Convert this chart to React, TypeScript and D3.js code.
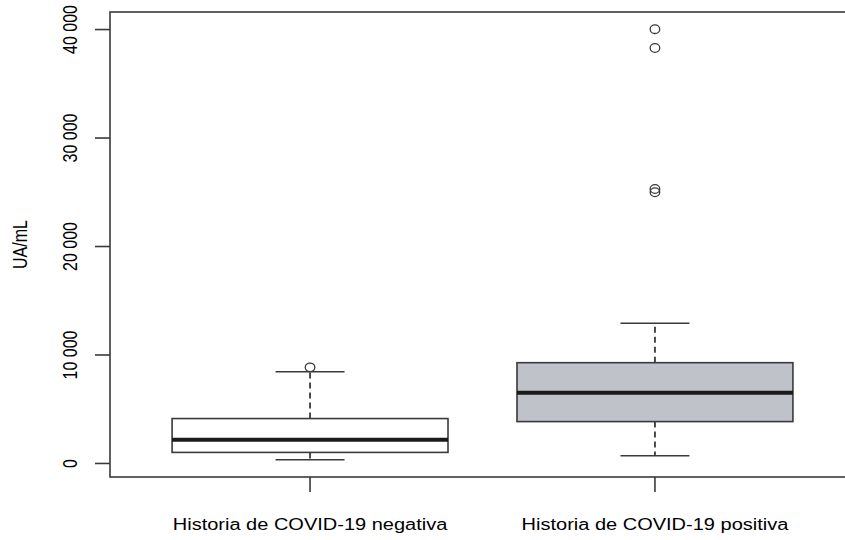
import React from 'react';
import * as d3 from 'd3';

const width = 845;
const height = 540;
const margin = { top: 12, right: -10, bottom: 63, left: 110 };

// box statistics (UA/mL)
const groups = ['Historia de COVID-19 negativa', 'Historia de COVID-19 positiva'];
const lowerWhisker = [340, 710];
const q1 = [1020, 3860];
const median = [2190, 6510];
const q3 = [4140, 9290];
const upperWhisker = [8450, 12930];
const outliers = [[8860], [40030, 38300, 25300, 25000]];
const fills = ['#ffffff', '#bfc2c8'];
const yTicks = [0, 10000, 20000, 30000, 40000];

const fmt = (v: number) => d3.format(',')(v).replace(/,/g, ' ');

// the original image was stretched horizontally
const sx = 1.25;

export default function App() {
  const x0 = margin.left;
  const x1 = width - margin.right;
  const y0 = height - margin.bottom;
  const y1 = margin.top;

  // R-style 4% extension on both axes
  const n = groups.length;
  const xScale = d3.scaleLinear()
    .domain([0.5 - 0.04 * n, n + 0.5 + 0.04 * n])
    .range([x0, x1]);
  const allVals = [...lowerWhisker, ...upperWhisker, ...outliers.flat()];
  const lo = d3.min(allVals) as number;
  const hi = d3.max(allVals) as number;
  const pad = (hi - lo) * 0.04;
  const yScale = d3.scaleLinear().domain([lo - pad, hi + pad]).range([y0, y1]);

  const boxW = xScale(1.4) - xScale(1);
  const capW = boxW / 2;
  const stroke = '#3a3a3a';
  const fs = 16;

  return (
    <svg
      width={width}
      height={height}
      style={{ position: 'absolute', left: 0, top: 0, background: '#fff' }}
      fontFamily="'Liberation Sans', Arial, sans-serif"
    >
      {groups.map((g, i) => {
        const cx = xScale(i + 1);
        return (
          <g key={g}>
            <line x1={cx} x2={cx} y1={yScale(q3[i])} y2={yScale(upperWhisker[i])}
              stroke={stroke} strokeWidth={1.8} strokeDasharray="6,4" />
            <line x1={cx} x2={cx} y1={yScale(q1[i])} y2={yScale(lowerWhisker[i])}
              stroke={stroke} strokeWidth={1.8} strokeDasharray="6,4" />
            <line x1={cx - capW / 2} x2={cx + capW / 2} y1={yScale(upperWhisker[i])} y2={yScale(upperWhisker[i])}
              stroke={stroke} strokeWidth={1.5} />
            <line x1={cx - capW / 2} x2={cx + capW / 2} y1={yScale(lowerWhisker[i])} y2={yScale(lowerWhisker[i])}
              stroke={stroke} strokeWidth={1.5} />
            <rect x={cx - boxW} y={yScale(q3[i])} width={boxW * 2}
              height={yScale(q1[i]) - yScale(q3[i])}
              fill={fills[i]} stroke={stroke} strokeWidth={1.6} />
            <line x1={cx - boxW} x2={cx + boxW} y1={yScale(median[i])} y2={yScale(median[i])}
              stroke="#1a1a1a" strokeWidth={4} />
            {outliers[i].map((v, k) => (
              <ellipse key={k} cx={cx} cy={yScale(v)} rx={4.8} ry={4.3} fill="none" stroke={stroke} strokeWidth={1.3} />
            ))}
          </g>
        );
      })}

      {/* frame */}
      <rect x={x0} y={y1} width={x1 - x0} height={y0 - y1} fill="none" stroke={stroke} strokeWidth={1.6} />

      {/* y axis */}
      {yTicks.map((t) => (
        <g key={t} transform={`translate(0,${yScale(t)})`}>
          <line x1={x0 - 15} x2={x0} stroke={stroke} strokeWidth={1.6} />
          <text transform={`translate(77,0) scale(${sx},1) rotate(-90)`} textAnchor="middle"
            fontSize={fs} fill="#000">{fmt(t)}</text>
        </g>
      ))}
      <text transform={`translate(27,${(y0 + y1) / 2}) scale(${sx},1) rotate(-90)`} textAnchor="middle"
        fontSize={fs} fill="#000">UA/mL</text>

      {/* x axis */}
      {groups.map((g, i) => (
        <g key={g} transform={`translate(${xScale(i + 1)},0)`}>
          <line y1={y0} y2={y0 + 15} stroke={stroke} strokeWidth={1.6} />
          <text transform={`translate(0,${y0 + 53}) scale(${sx},1)`} textAnchor="middle"
            fontSize={fs} fill="#000">{g}</text>
        </g>
      ))}
    </svg>
  );
}
